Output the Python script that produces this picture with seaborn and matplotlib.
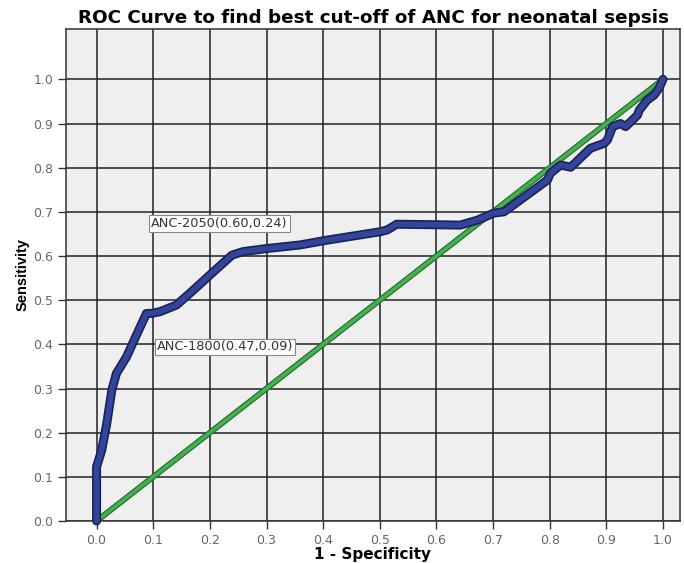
import numpy as np
import pandas as pd
import matplotlib
matplotlib.use("Agg")
import matplotlib.pyplot as plt
import matplotlib.patheffects as pe
import seaborn as sns

# ROC curve points (1 - specificity, sensitivity)
fpr = [0.0, 0.0, 0.009, 0.018, 0.027, 0.035, 0.053, 0.070, 0.088, 0.097,
       0.112, 0.141, 0.171, 0.206, 0.239, 0.259, 0.301, 0.359, 0.407,
       0.501, 0.513, 0.530, 0.642, 0.672, 0.701, 0.719, 0.748, 0.796,
       0.801, 0.819, 0.837, 0.872, 0.896, 0.902, 0.911, 0.925, 0.934,
       0.943, 0.955, 0.958, 0.972, 0.984, 0.993, 1.0]
tpr = [0.0, 0.123, 0.16, 0.221, 0.297, 0.334, 0.372, 0.42, 0.470, 0.470,
       0.474, 0.489, 0.523, 0.564, 0.602, 0.610, 0.617, 0.625, 0.636,
       0.655, 0.659, 0.672, 0.670, 0.681, 0.697, 0.700, 0.727, 0.772,
       0.787, 0.806, 0.801, 0.844, 0.855, 0.863, 0.893, 0.900, 0.893,
       0.904, 0.919, 0.930, 0.953, 0.964, 0.980, 1.0]
ref_x = [0.0, 1.0]
ref_y = [0.0, 1.0]

labels = ["ANC-2050(0.60,0.24)", "ANC-1800(0.47,0.09)"]
label_x = [0.217, 0.227]
label_y = [0.674, 0.394]

ticks = np.round(np.arange(0, 1.01, 0.1), 1)

sns.set_style("whitegrid")
plt.rcParams['font.family'] = ['DejaVu Sans']

fig = plt.figure(figsize=(6.84, 5.63), dpi=100)
ax = fig.add_axes([66/684, 1-521/563, (680-66)/684, (521-29)/563])
ax.set_facecolor("#efefef")

roc = pd.DataFrame({"x": fpr, "y": tpr})
diag = pd.DataFrame({"x": ref_x, "y": ref_y})

# estimator=None keeps the repeated x=0 points instead of averaging them
sns.lineplot(data=roc, x="x", y="y", ax=ax, sort=False, estimator=None,
             color="#33449a", lw=4,
             path_effects=[pe.Stroke(linewidth=6.5, foreground="#1c2456"), pe.Normal()],
             zorder=4, clip_on=False)
sns.lineplot(data=diag, x="x", y="y", ax=ax, estimator=None, color="#45b04f", lw=2.6,
             path_effects=[pe.Stroke(linewidth=4.2, foreground="#1f6a2a"), pe.Normal()],
             zorder=3, clip_on=False)

for t, xx, yy in zip(labels, label_x, label_y):
    ax.text(xx, yy, t, fontsize=9.3, color="#333333", ha="center", va="center",
            bbox=dict(boxstyle="square,pad=0.15", fc="white", ec="#888888", lw=0.8),
            zorder=6)

ax.set_xlim(-0.054, 1.03)
ax.set_ylim(0, 1.114)
ax.set_xticks(ticks)
ax.set_yticks(ticks)
ax.set_xticklabels([f"{t:.1f}" for t in ticks])
ax.set_yticklabels([f"{t:.1f}" for t in ticks])
ax.grid(True, color="#222222", lw=1.1)
ax.tick_params(axis="both", length=6, width=1, color="#333333",
               labelsize=9, labelcolor="#666666", pad=3, left=True, bottom=True)
for s in ax.spines.values():
    s.set_color("#333333")
    s.set_linewidth(1.1)

ax.set_xlabel("1 - Specificity", fontsize=11, fontweight="bold", labelpad=0,
              color="black")
ax.set_ylabel("Sensitivity", fontsize=10.5, fontweight="bold", color="black",
              family=["Liberation Sans Narrow", "Liberation Sans"], labelpad=3)
ax.set_title("ROC Curve to find best cut-off of ANC for neonatal sepsis",
             fontsize=13.2, fontweight="bold", pad=4, color="black")

fig.savefig("out.png", dpi=100)
